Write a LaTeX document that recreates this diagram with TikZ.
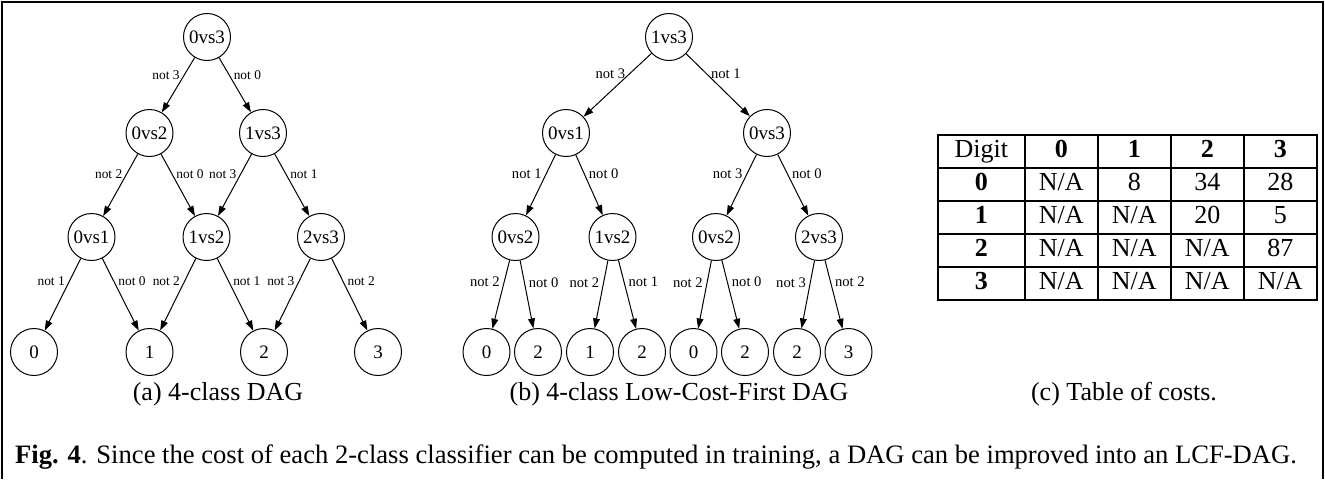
\documentclass[tikz,border=0pt]{standalone}
\usepackage{fontspec}
\setmainfont{Liberation Serif}
\usepackage{array}
\usetikzlibrary{arrows.meta}
\newcolumntype{C}[1]{>{\centering\arraybackslash}p{#1}}
\tikzset{
  vsnode/.style={circle, draw, line width=0.5pt, minimum size=23.5pt, inner sep=0pt, font=\fontsize{9.5}{11}\selectfont},
  arr/.style={line width=0.5pt, -{Triangle[length=5pt,width=3.4pt]}},
  notl/.style={pos=0.32, anchor=east, inner sep=2pt, font=\fontsize{7.3}{8}\selectfont},
  notr/.style={pos=0.32, anchor=west, inner sep=2pt, font=\fontsize{7.3}{8}\selectfont},
  capfont/.style={font=\fontsize{13}{15.6}\selectfont}
}
\begin{document}
\begin{tikzpicture}[x=0.5pt, y=-0.5pt]
  \useasboundingbox (0,0) rectangle (1325,479);
  % frame
  \draw[line width=1.3pt] (2,479) -- (2,2) -- (1323,2) -- (1323,479);

  % (a) 4-class DAG
  \begin{scope}[notl/.append style={font=\fontsize{6.7}{8}\selectfont},
                notr/.append style={font=\fontsize{6.7}{8}\selectfont}]
  \node[vsnode] (a03) at (207,37) {0vs3};
  \node[vsnode] (a02) at (149.5,133) {0vs2};
  \node[vsnode] (a13) at (263,133) {1vs3};
  \node[vsnode] (a01) at (91.5,237) {0vs1};
  \node[vsnode] (a12) at (206.5,237) {1vs2};
  \node[vsnode] (a23) at (321,237) {2vs3};
  \node[vsnode] (a0) at (34,352) {0};
  \node[vsnode] (a1) at (149.5,352) {1};
  \node[vsnode] (a2) at (264,352) {2};
  \node[vsnode] (a3) at (378,352) {3};
  \draw[arr] (a03) -- node[notl] {not 3} (a02);
  \draw[arr] (a03) -- node[notr] {not 0} (a13);
  \draw[arr] (a02) -- node[notl] {not 2} (a01);
  \draw[arr] (a02) -- node[notr] {not 0} (a12);
  \draw[arr] (a13) -- node[notl] {not 3} (a12);
  \draw[arr] (a13) -- node[notr] {not 1} (a23);
  \draw[arr] (a01) -- node[notl] {not 1} (a0);
  \draw[arr] (a01) -- node[notr] {not 0} (a1);
  \draw[arr] (a12) -- node[notl] {not 2} (a1);
  \draw[arr] (a12) -- node[notr] {not 1} (a2);
  \draw[arr] (a23) -- node[notl] {not 3} (a2);
  \draw[arr] (a23) -- node[notr] {not 2} (a3);
  \end{scope}
  \node[capfont] (suba) at (218,394) {(a) 4-class DAG};

  % (b) 4-class Low-Cost-First DAG
  \node[vsnode] (b13) at (669,37) {1vs3};
  \node[vsnode] (b01) at (566,133) {0vs1};
  \node[vsnode] (b03) at (767,133) {0vs3};
  \node[vsnode] (b02l) at (515.5,237) {0vs2};
  \node[vsnode] (b12) at (612.5,237) {1vs2};
  \node[vsnode] (b02r) at (716,237) {0vs2};
  \node[vsnode] (b23) at (819,237) {2vs3};
  \node[vsnode] (bl1) at (486.5,352) {0};
  \node[vsnode] (bl2) at (538,352) {2};
  \node[vsnode] (bl3) at (590,352) {1};
  \node[vsnode] (bl4) at (642,352) {2};
  \node[vsnode] (bl5) at (693.5,352) {0};
  \node[vsnode] (bl6) at (745,352) {2};
  \node[vsnode] (bl7) at (797,352) {2};
  \node[vsnode] (bl8) at (848.5,352) {3};
  \draw[arr] (b13) -- node[notl] {not 3} (b01);
  \draw[arr] (b13) -- node[notr] {not 1} (b03);
  \draw[arr] (b01) -- node[notl] {not 1} (b02l);
  \draw[arr] (b01) -- node[notr] {not 0} (b12);
  \draw[arr] (b03) -- node[notl] {not 3} (b02r);
  \draw[arr] (b03) -- node[notr] {not 0} (b23);
  \draw[arr] (b02l) -- node[notl] {not 2} (bl1);
  \draw[arr] (b02l) -- node[notr] {not 0} (bl2);
  \draw[arr] (b12) -- node[notl] {not 2} (bl3);
  \draw[arr] (b12) -- node[notr] {not 1} (bl4);
  \draw[arr] (b02r) -- node[notl] {not 2} (bl5);
  \draw[arr] (b02r) -- node[notr] {not 0} (bl6);
  \draw[arr] (b23) -- node[notl] {not 3} (bl7);
  \draw[arr] (b23) -- node[notr] {not 2} (bl8);
  \node[capfont] (subb) at (679,394) {(b) 4-class Low-Cost-First DAG};

  % (c) table of costs
  \node[capfont, inner sep=0pt, anchor=north west] (costs) at (936.5,133.5) {%
    \setlength{\tabcolsep}{0pt}\setlength{\arrayrulewidth}{0.9pt}%
    \begin{tabular}{|C{42.6pt}|C{35.6pt}|C{35.6pt}|C{35.6pt}|C{35.6pt}|}
      \hline
      Digit & \textbf{0} & \textbf{1} & \textbf{2} & \textbf{3} \\ \hline
      \textbf{0} & N/A & 8 & 34 & 28 \\ \hline
      \textbf{1} & N/A & N/A & 20 & 5 \\ \hline
      \textbf{2} & N/A & N/A & N/A & 87 \\ \hline
      \textbf{3} & N/A & N/A & N/A & N/A \\ \hline
    \end{tabular}};
  \node[capfont] (subc) at (1124,394) {(c) Table of costs.};

  % caption
  \node[font=\fontsize{13.3}{16}\selectfont] (caption) at (656,457) {\textbf{Fig. 4}. Since the cost of each 2-class classifier can be computed in training, a DAG can be improved into an LCF-DAG.};
\end{tikzpicture}
\end{document}
